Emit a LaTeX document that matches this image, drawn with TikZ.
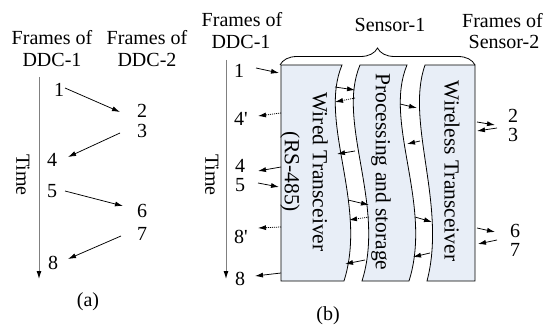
\documentclass[tikz,border=0pt]{standalone}
\usepackage{fontspec}
\setmainfont{Liberation Serif}
\usetikzlibrary{arrows.meta,decorations.pathreplacing}
\definecolor{boxfill}{HTML}{E8EEF7}
\definecolor{axisgray}{HTML}{808080}
\begin{document}
\begin{tikzpicture}[x=1pt,y=-1pt,
  lbl/.style={inner sep=0pt,font=\fontsize{20}{22}\selectfont},
  boxtext/.style={inner sep=0pt,align=center,rotate=-90,font=\fontsize{21.5}{28}\selectfont},
  arr/.style={-{Latex[length=8pt,width=5pt]},line width=0.75pt},
  darr/.style={arr,dash pattern=on 1pt off 1pt},
  axis/.style={draw=axisgray,line width=1pt,-{Latex[length=8pt,width=5pt,color=black]}},
  sbox/.style={draw=black,fill=boxfill,line width=0.8pt}]
\useasboundingbox (0,0) rectangle (546,326);

% ---------------- (a) ----------------
\node[lbl,anchor=base] (ha1) at (52,45) {Frames of};
\node[lbl,anchor=base] (ha2) at (52,67) {DDC-1};
\node[lbl,anchor=base] (hb1) at (147,45) {Frames of};
\node[lbl,anchor=base] (hb2) at (147,67) {DDC-2};
\coordinate (ta0) at (39,77);
\coordinate (ta1) at (39,279);
\draw[axis] (ta0) -- (ta1);
\node[lbl,rotate=-90] (timea) at (23,175) {Time};
\node[lbl,anchor=base] (a1) at (59,97) {1};
\node[lbl,anchor=base] (a2) at (142,118) {2};
\node[lbl,anchor=base] (a3) at (142,138) {3};
\node[lbl,anchor=base] (a4) at (52,167) {4};
\node[lbl,anchor=base] (a5) at (52,197) {5};
\node[lbl,anchor=base] (a6) at (142,217) {6};
\node[lbl,anchor=base] (a7) at (142,240) {7};
\node[lbl,anchor=base] (a8) at (53,269) {8};
\draw[arr] (65,88) -- (120,112);
\draw[arr] (120,133) -- (68,157);
\draw[arr] (65,191) -- (123,206);
\draw[arr] (121,236) -- (68,259);
\node[lbl,anchor=base] (capa) at (88,306) {(a)};

% ---------------- (b) ----------------
\node[lbl,anchor=base] (hc1) at (242,27) {Frames of};
\node[lbl,anchor=base] (hc2) at (241,49) {DDC-1};
\node[lbl,anchor=base] (hs1) at (390,32) {Sensor-1};
\node[lbl,anchor=base west] (hd1) at (462,28) {Frames of};
\node[lbl,anchor=base] (hd2) at (504,49) {Sensor-2};
\coordinate (tb0) at (226,60);
\coordinate (tb1) at (226,279);
\draw[axis] (tb0) -- (tb1);
\node[lbl,rotate=-90] (timeb) at (212,175) {Time};

% boxes
\path[sbox] (281,65) -- (342,65) .. controls (318,122) and (368,205) .. (344,281) -- (281,281) -- cycle;
\path[sbox] (360,65) -- (407,65) .. controls (383,122) and (433,205) .. (409,281) -- (362,281)
   .. controls (386,205) and (336,122) .. (360,65) -- cycle;
\path[sbox] (425,65) -- (475,65) -- (475,281) -- (427,281) .. controls (447,205) and (405,122) .. (425,65) -- cycle;
\node[boxtext] (wired) at (304,172) {Wired Transceiver\\(RS-485)};
\node[boxtext] (proc) at (381,172) {Processing and storage};
\node[boxtext] (wless) at (452,171) {Wireless Transceiver};

% brace
\coordinate (br0) at (280,65);
\coordinate (br1) at (475,65);
\draw[line width=0.8pt,decorate,decoration={brace,amplitude=17pt}] (br0) -- (br1);

% numbers
\node[lbl,anchor=base] (b1) at (239,78) {1};
\node[lbl,anchor=base] (b4p) at (241,125) {4\textquotesingle};
\node[lbl,anchor=base] (b4) at (240,172) {4};
\node[lbl,anchor=base] (b5) at (240,191) {5};
\node[lbl,anchor=base] (b8p) at (241,243) {8\textquotesingle};
\node[lbl,anchor=base] (b8) at (240,285) {8};
\node[lbl,anchor=base] (b2) at (513,123) {2};
\node[lbl,anchor=base] (b3) at (513,142) {3};
\node[lbl,anchor=base] (b6) at (515,237) {6};
\node[lbl,anchor=base] (b7) at (515,256) {7};

% left arrows
\draw[arr] (256,68) -- (279,73);
\draw[darr] (281,113) -- (258,116);
\draw[arr] (281,167) -- (258,171);
\draw[arr] (258,183) -- (279,187);
\draw[darr] (281,227) -- (258,228);
\draw[arr] (281,273) -- (255,276);
% wired - processing
\draw[arr] (335,87) -- (355,90);
\draw[darr] (355,98) -- (335,102);
\draw[arr] (355,151) -- (337,154);
\draw[arr] (348,200) -- (369,205);
\draw[darr] (369,217) -- (349,220);
\draw[arr] (365,260) -- (345,264);
% processing - wireless
\draw[arr] (400,104) -- (417,108);
\draw[arr] (420,141) -- (407,144);
\draw[arr] (415,217) -- (432,222);
\draw[arr] (430,253) -- (413,257);
% right arrows
\draw[arr] (477,122) -- (495,125);
\draw[arr] (497,128) -- (477,131);
\draw[arr] (477,228) -- (495,232);
\draw[arr] (497,240) -- (478,244);

\node[lbl,anchor=base] (capb) at (328,320) {(b)};
\end{tikzpicture}
\end{document}
